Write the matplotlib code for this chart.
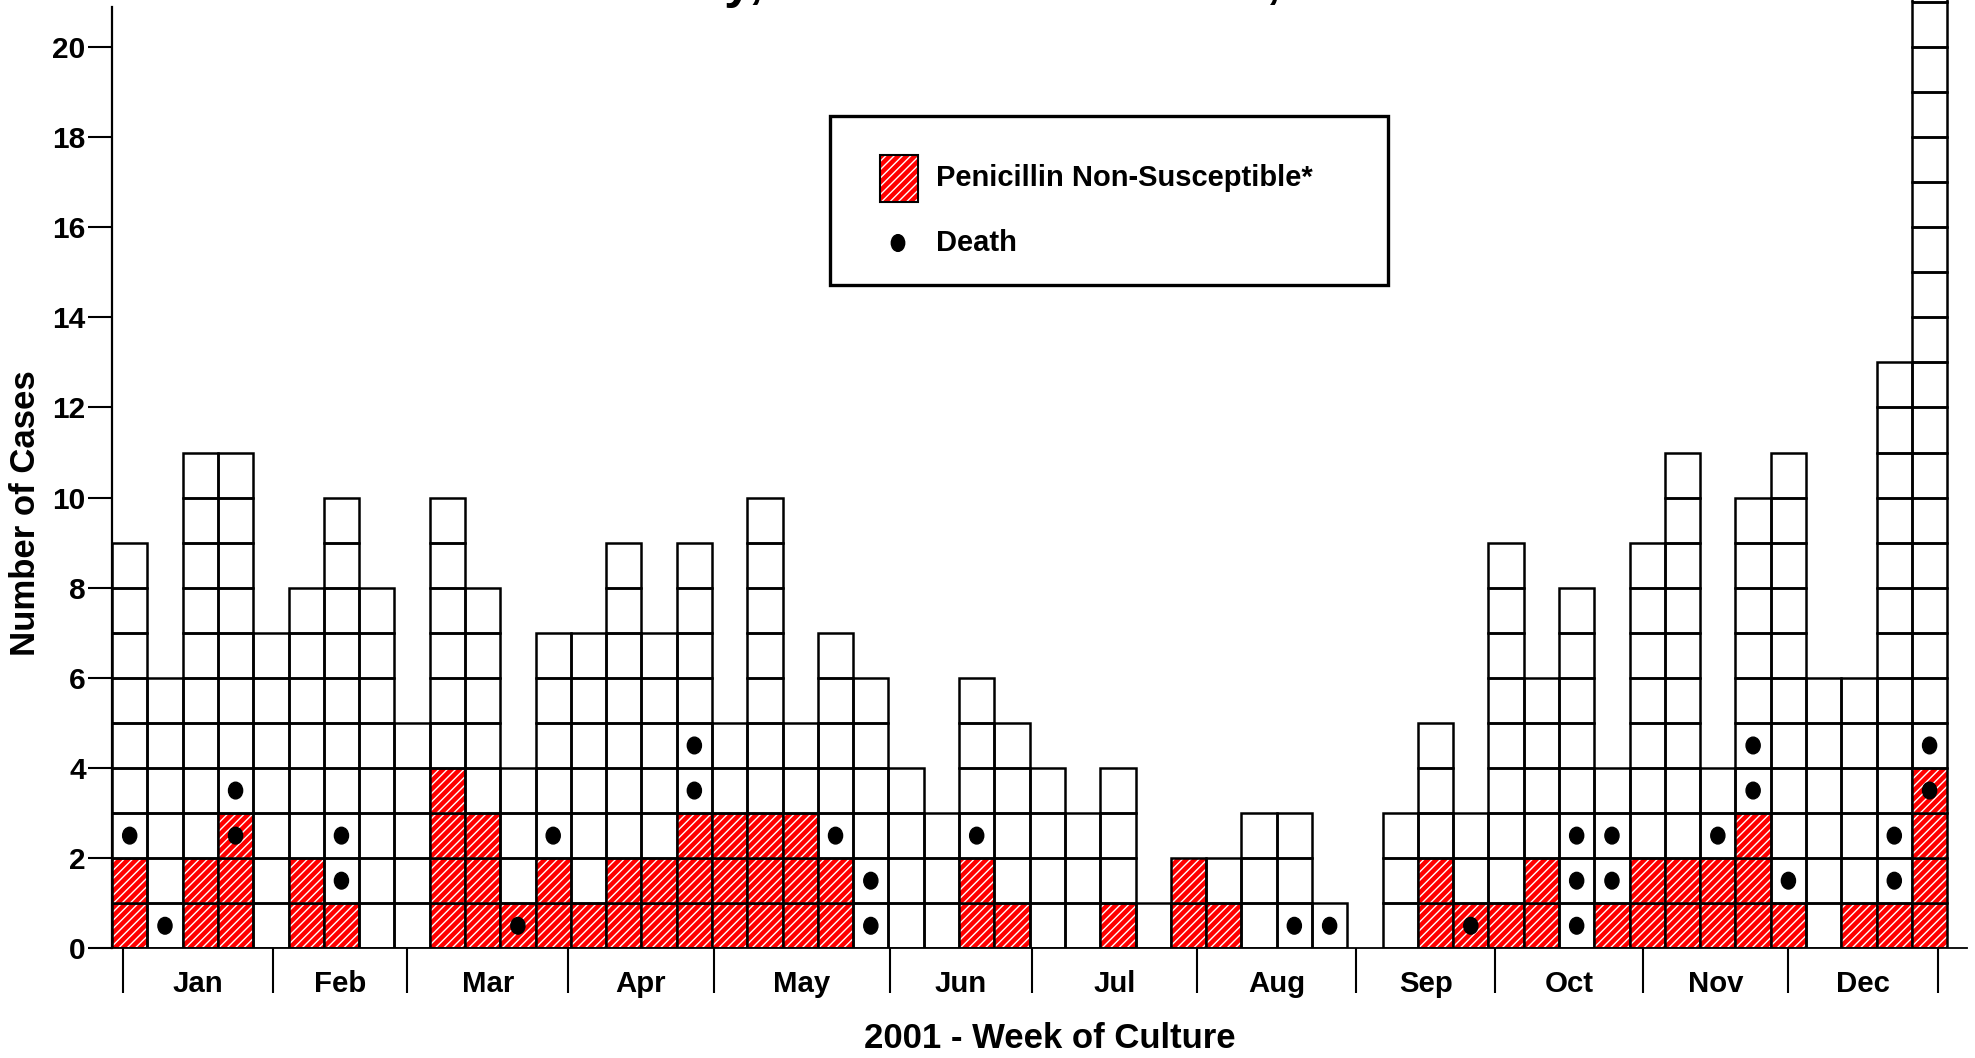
import matplotlib
matplotlib.use("Agg")
import matplotlib.pyplot as plt
from matplotlib.patches import Rectangle, Ellipse
import numpy as np

plt.rcParams["font.family"] = ["Liberation Sans", "DejaVu Sans"]
plt.rcParams["font.weight"] = "bold"
plt.rcParams["hatch.linewidth"] = 1.0

# casos por semana de cultura (2001)
weeks = np.arange(1, 53)
cases = [9, 6, 11, 11, 7, 8, 10, 8, 5, 10, 8, 4, 7, 7, 9, 7, 9, 5, 10, 5,
         7, 6, 4, 3, 6, 5, 4, 3, 4, 1, 2, 2, 3, 3, 1, 0, 3, 5, 3, 9,
         6, 8, 4, 9, 11, 4, 10, 11, 6, 6, 13, 22]
# penicillin non-susceptible (bottom of each column)
pns = [2, 0, 2, 3, 0, 2, 1, 0, 0, 4, 3, 1, 2, 1, 2, 2, 3, 3, 3, 3,
       2, 0, 0, 0, 2, 1, 0, 0, 1, 0, 2, 1, 0, 0, 0, 0, 0, 2, 1, 1,
       2, 0, 1, 2, 2, 2, 3, 1, 0, 1, 1, 4]
# deaths: week -> which case (0 = bottom) died
death_cells = {1: [2], 2: [0], 4: [2, 3], 7: [1, 2], 12: [0], 13: [2],
               17: [3, 4], 21: [2], 22: [0, 1], 25: [2], 34: [0], 35: [0],
               39: [0], 42: [0, 1, 2], 43: [1, 2], 46: [2], 47: [3, 4],
               48: [1], 51: [1, 2], 52: [3, 4]}

months = ["Jan", "Feb", "Mar", "Apr", "May", "Jun",
          "Jul", "Aug", "Sep", "Oct", "Nov", "Dec"]
month_edges = [0.80, 5.05, 8.86, 13.43, 17.55, 22.55, 26.56,
               31.24, 35.75, 39.69, 43.88, 48.0, 52.24]
yticks = list(range(0, 21, 2))

W, H = 1975, 1058
fig = plt.figure(figsize=(W / 100, H / 100), dpi=100)
ax = fig.add_axes([100.4 / W, 109.7 / H, (1967 - 100.4) / W, 1 - 109.7 / H])
ax.set_xlim(0.17, 53.06)
ax.set_ylim(0, 21.04)


def red_cell(axis, xy, w, h, **kw):
    axis.add_patch(Rectangle(xy, w, h, facecolor="#ff0000", edgecolor="white",
                             hatch="////", lw=0, **kw))


for w, n, r in zip(weeks, cases, pns):
    for i in range(n):
        if i < r:
            red_cell(ax, (w - 0.5, i), 1, 1)
        ax.add_patch(Rectangle((w - 0.5, i), 1, 1, fill=False,
                               edgecolor="black", lw=1.8))

for w, cells in death_cells.items():
    for c in cells:
        ax.add_patch(Ellipse((w, c + 0.5), 0.40, 0.37, color="black", zorder=3))

# axes
for s in ["top", "right"]:
    ax.spines[s].set_visible(False)
ax.spines["left"].set_position(("data", 0.5))
ax.spines["left"].set_bounds(0, 20.88)
ax.spines["left"].set_linewidth(1.6)
ax.spines["bottom"].set_linewidth(1.3)
ax.set_xticks([])
ax.set_yticks(yticks)
ax.tick_params(axis="y", length=17, width=1.5, direction="out",
               labelsize=21.5, pad=2)

# month separators and labels
ax.vlines(month_edges, -1.0, 0, colors="black", lw=1.5, clip_on=False)
for i, m in enumerate(months):
    mid = (month_edges[i] + month_edges[i + 1]) / 2
    ax.text(mid, -0.80, m, ha="center", va="center", fontsize=21.2)

fig.text(26 / W, 1 - 513 / H, "Number of Cases", rotation=90,
         ha="center", va="center", fontsize=25)
fig.text(1050 / W, 1 - 1039 / H, "2001 - Week of Culture",
         ha="center", va="center", fontsize=25)

# title (cropped off at the top in the original)
fig.text(496 / W, 1 + 3 / H, "Tri-County, Portland Metro Area, 2001",
         ha="left", va="baseline", fontsize=37)

# legend box
fig.add_artist(Rectangle((830 / W, 1 - 285 / H), 558 / W, 169 / H,
                         transform=fig.transFigure, fill=False,
                         edgecolor="black", lw=2.4))
fig.add_artist(Rectangle((880 / W, 1 - 202 / H), 38 / W, 47 / H,
                         transform=fig.transFigure, facecolor="#ff0000",
                         edgecolor="white", hatch="////", lw=0))
fig.add_artist(Rectangle((880 / W, 1 - 202 / H), 38 / W, 47 / H,
                         transform=fig.transFigure, fill=False,
                         edgecolor="black", lw=1.5))
fig.add_artist(Ellipse((898 / W, 1 - 243 / H), 13.4 / W, 16.7 / H,
                       transform=fig.transFigure, color="black"))
fig.text(936 / W, 1 - 178 / H, "Penicillin Non-Susceptible*",
         ha="left", va="center", fontsize=21)
fig.text(936 / W, 1 - 243 / H, "Death", ha="left", va="center", fontsize=21)

fig.savefig("out.png", dpi=100)
